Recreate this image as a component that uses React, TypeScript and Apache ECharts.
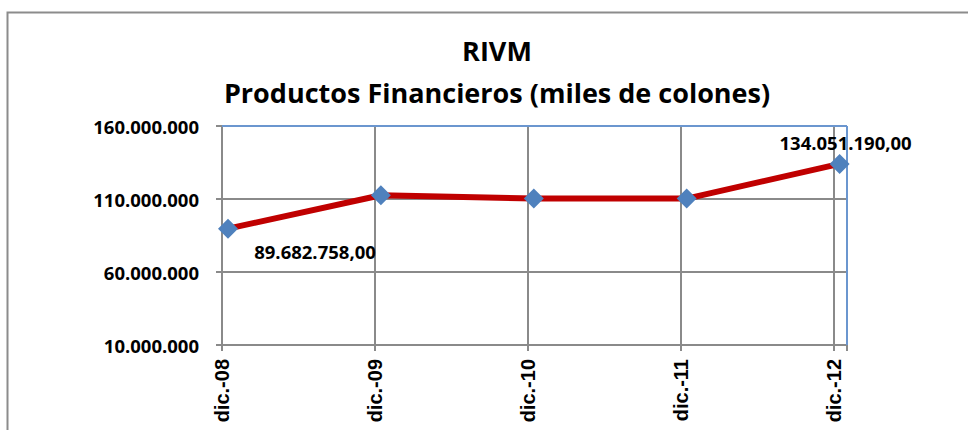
import React, { useEffect, useRef } from "react";
import * as echarts from "echarts";

const categories = ["dic.-08", "dic.-09", "dic.-10", "dic.-11", "dic.-12"];
const values = [89682758, 112600000, 110300000, 110300000, 134051190];
const labelledIndexes = [0, 4];
const yMin = 10000000;
const yMax = 160000000;
const yInterval = 50000000;
const titleLine1 = "RIVM";
const titleLine2 = "Productos Financieros (miles de colones)";

const fmtInt = (v: number) =>
  Math.round(v).toString().replace(/\B(?=(\d{3})+(?!\d))/g, ".");
const fmtDec = (v: number) => {
  const cents = Math.round(v * 100);
  const ip = Math.floor(cents / 100);
  const dp = (cents % 100).toString().padStart(2, "0");
  return fmtInt(ip) + "," + dp;
};

const GRID_LEFT = 222;
const GRID_TOP = 126;
const GRID_W = 625;
const GRID_H = 219;
const STEP = 152.9;
const X_MAX = GRID_W / STEP;
const SHIFT = 6 / STEP;

const labelOffsets: Record<number, [number, number]> = {
  0: [87, 23],
  4: [6, -21],
};

export default function App() {
  const ref = useRef<HTMLDivElement>(null);
  useEffect(() => {
    document.body.style.margin = "0";
    if (!ref.current) return;
    const chart = echarts.init(ref.current, undefined, { renderer: "svg" });
    const gray = "#8a8a8a";
    const blue = "#6b96cf";
    const labelFont = {
      fontFamily: "Open Sans",
      fontWeight: "bold" as const,
      fontSize: 18.5,
      color: "#000",
    };
    chart.setOption({
      animation: false,
      backgroundColor: "#fff",
      grid: { left: GRID_LEFT, top: GRID_TOP, width: GRID_W, height: GRID_H, containLabel: false },
      xAxis: [
        {
          type: "value",
          min: 0,
          max: X_MAX,
          interval: 1,
          position: "bottom",
          axisLine: { show: true, lineStyle: { color: gray, width: 2 } },
          axisTick: { show: true, length: 6, lineStyle: { color: gray, width: 2 } },
          splitLine: { show: true, lineStyle: { color: gray, width: 2 } },
          axisLabel: {
            show: true,
            rotate: 90,
            margin: 14,
            padding: [12, 0, 0, 0],
            fontFamily: "Liberation Sans",
            fontWeight: "bold",
            fontSize: 20,
            color: "#000",
            formatter: (v: number) =>
              Number.isInteger(v) && categories[v] !== undefined ? categories[v] : "",
          },
        },
        {
          type: "value",
          min: -SHIFT,
          max: X_MAX - SHIFT,
          show: false,
        },
      ],
      yAxis: {
        type: "value",
        min: yMin,
        max: yMax,
        interval: yInterval,
        axisLine: { show: true, lineStyle: { color: gray, width: 2 } },
        axisTick: { show: true, length: 6, lineStyle: { color: gray, width: 2 } },
        splitLine: { show: true, lineStyle: { color: gray, width: 2 } },
        axisLabel: {
          margin: 23,
          ...labelFont,
          formatter: (v: number) => fmtInt(v),
        },
      },
      graphic: [
        {
          type: "rect",
          z: 0,
          shape: { x: 7.5, y: 12.5, width: 1000, height: 600 },
          style: { fill: "none", stroke: "#8c8c8c", lineWidth: 2 },
        },
        {
          type: "line",
          z: 1,
          shape: { x1: GRID_LEFT, y1: GRID_TOP, x2: GRID_LEFT + GRID_W, y2: GRID_TOP },
          style: { stroke: blue, lineWidth: 2 },
        },
        {
          type: "line",
          z: 1,
          shape: { x1: GRID_LEFT + GRID_W, y1: GRID_TOP, x2: GRID_LEFT + GRID_W, y2: GRID_TOP + GRID_H },
          style: { stroke: blue, lineWidth: 2 },
        },
        {
          type: "text",
          z: 3,
          x: 497,
          y: 50,
          style: {
            text: titleLine1,
            fontFamily: "Open Sans",
            fontWeight: "bold",
            fontSize: 27,
            fill: "#000",
            align: "center",
            verticalAlign: "middle",
          },
        },
        {
          type: "text",
          z: 3,
          x: 497,
          y: 92,
          style: {
            text: titleLine2,
            fontFamily: "Open Sans",
            fontWeight: "bold",
            fontSize: 27,
            fill: "#000",
            align: "center",
            verticalAlign: "middle",
          },
        },
      ],
      series: [
        {
          type: "line",
          xAxisIndex: 1,
          z: 5,
          data: values.map((v, i) => {
            const item: any = { value: [i, v] };
            if (labelledIndexes.includes(i)) {
              item.label = {
                show: true,
                position: "inside",
                offset: labelOffsets[i] || [0, 0],
                ...labelFont,
                formatter: () => fmtDec(v),
              };
            }
            return item;
          }),
          lineStyle: { color: "#C00000", width: 6 },
          symbol: "diamond",
          symbolSize: 20,
          itemStyle: { color: "#4F81BD" },
          label: { show: false },
        },
      ],
    });
    return () => chart.dispose();
  }, []);
  return <div ref={ref} style={{ width: 968, height: 430 }} />;
}
